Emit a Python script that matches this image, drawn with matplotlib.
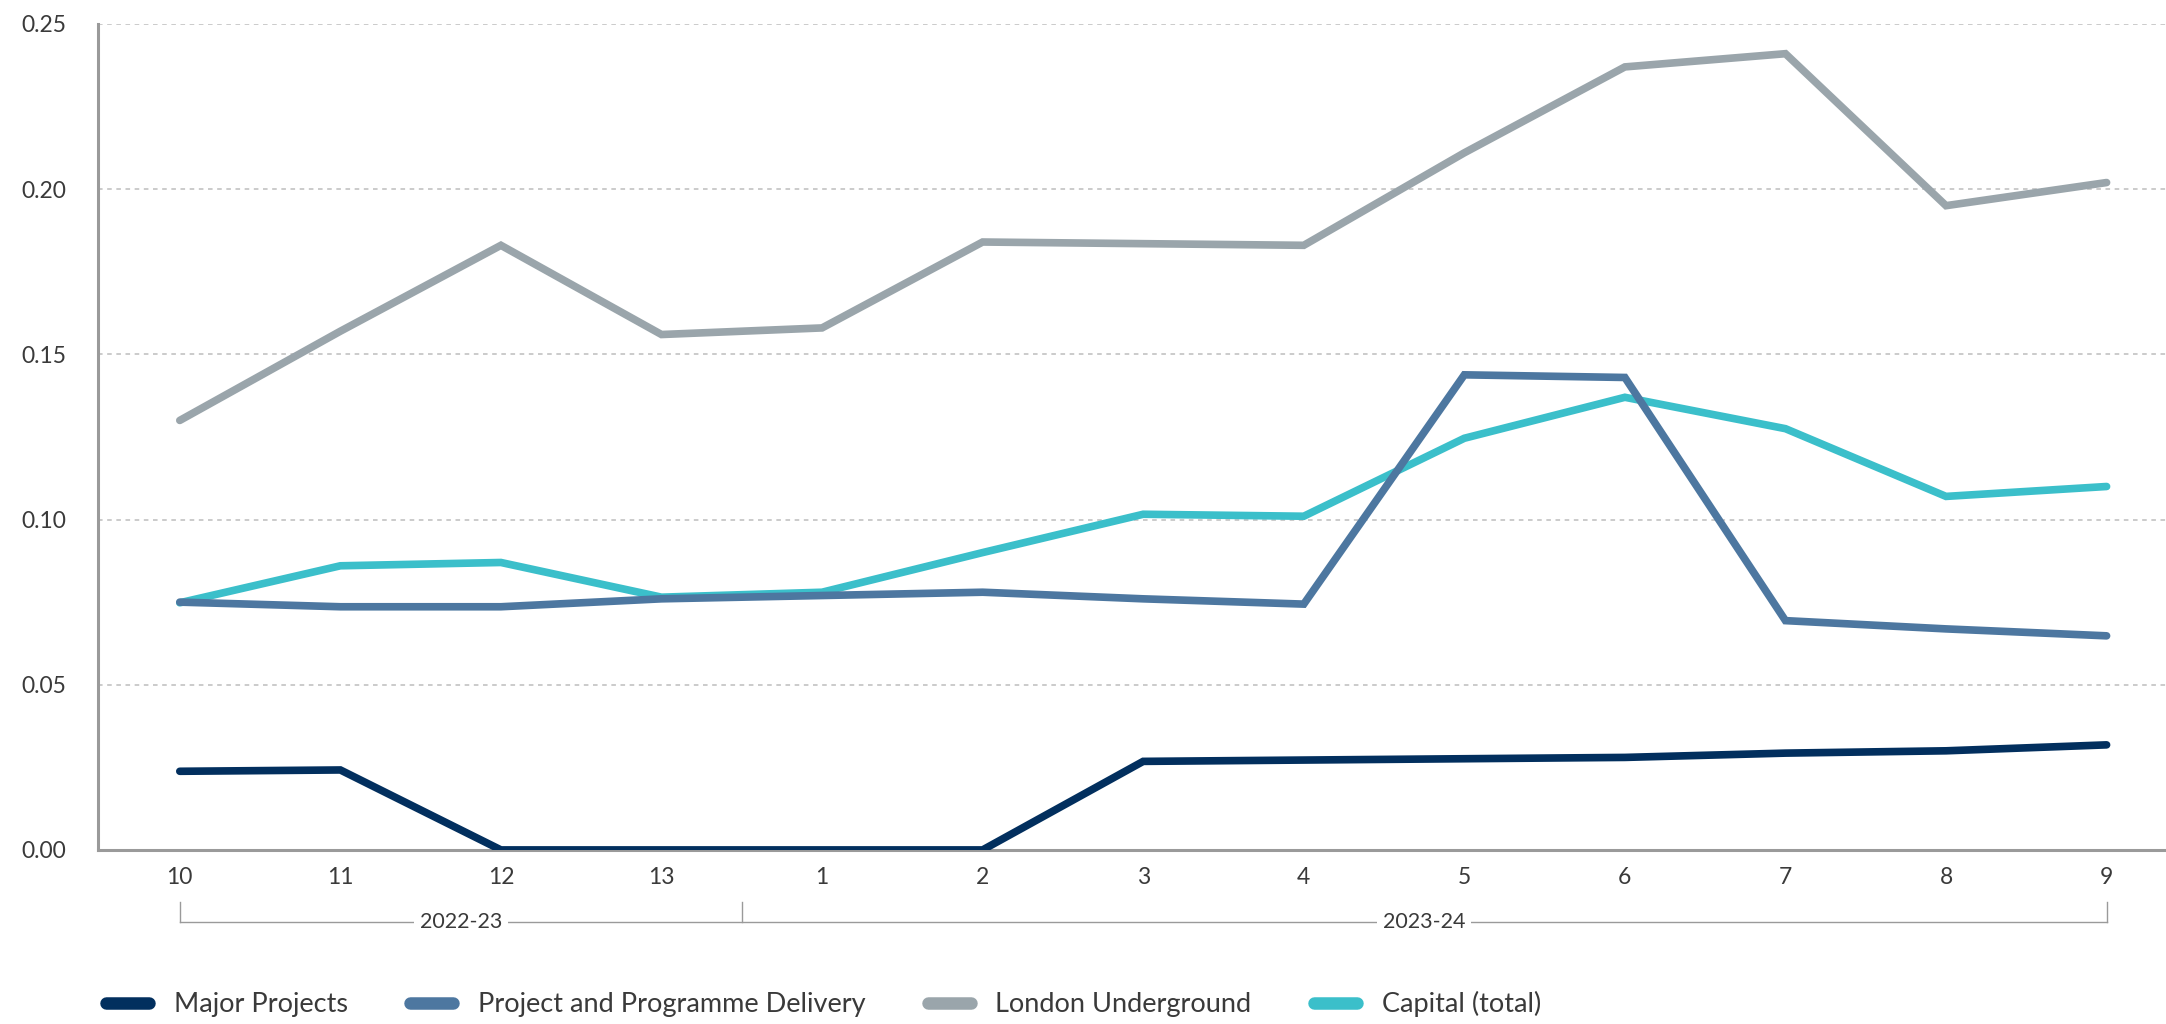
import numpy as np
import matplotlib.pyplot as plt
from matplotlib.transforms import blended_transform_factory

plt.rcParams['font.family'] = ['Lato', 'DejaVu Sans']

periods = ['10', '11', '12', '13', '1', '2', '3', '4', '5', '6', '7', '8', '9']
years = ['2022-23', '2023-24']

major = [0.0238, 0.0242, 0.0, 0.0, 0.0, 0.0, 0.0268, 0.0272, 0.0276, 0.0280, 0.0293, 0.0300, 0.0318]
ppd = [0.0750, 0.0736, 0.0736, 0.0760, 0.0770, 0.0780, 0.0760, 0.0744, 0.1438, 0.1430, 0.0694, 0.0669, 0.0648]
lu = [0.130, 0.157, 0.183, 0.156, 0.158, 0.184, 0.1835, 0.183, 0.211, 0.237, 0.241, 0.195, 0.202]
capital = [0.0748, 0.0860, 0.0870, 0.0765, 0.0780, 0.0900, 0.1016, 0.1010, 0.1246, 0.1370, 0.1275, 0.1070, 0.1100]

names = ['Major Projects', 'Project and Programme Delivery', 'London Underground', 'Capital (total)']
colors = ['#022f5e', '#4d77a0', '#9aa5ab', '#3bbfca']

txt = '#3a3a3a'
x = np.arange(len(periods))

fig = plt.figure(figsize=(21.66, 10.24), dpi=100)
ax = fig.add_axes([0.0452, 0.170, 0.9548, 0.8066])

# grey and teal behind, major on top
series = [major, ppd, lu, capital]
zs = [6, 5, 3, 4]
handles = []
for i in range(4):
    l, = ax.plot(x, series[i], color=colors[i], lw=5.5, solid_capstyle='round',
                 solid_joinstyle='miter', label=names[i], zorder=zs[i])
    handles.append(l)

ax.set_ylim(0, 0.25)
ax.set_xlim(-0.51, 12.37)
ax.set_yticks([0, 0.05, 0.10, 0.15, 0.20, 0.25])
ax.set_yticklabels(['0.00', '0.05', '0.10', '0.15', '0.20', '0.25'])
ax.set_xticks(x)
ax.set_xticklabels(periods)
ax.tick_params(axis='both', length=0, labelsize=16.5, labelcolor=txt)
ax.tick_params(axis='y', pad=23)
ax.tick_params(axis='x', pad=12)

for y in [0.05, 0.10, 0.15, 0.20, 0.25]:
    ax.axhline(y, color='#bdbdbd', lw=1.1, ls=(0, (3, 3)), zorder=1)

for s in ['top', 'right']:
    ax.spines[s].set_visible(False)
for s in ['left', 'bottom']:
    ax.spines[s].set_color('#9a9a9a')
    ax.spines[s].set_linewidth(2.2)

# year brackets under the axis
tr = blended_transform_factory(ax.transData, ax.transAxes)
y_top, y_bot = -0.063, -0.087
for bx in [0, 3.5, 12]:
    ax.plot([bx, bx], [y_top, y_bot], color='#9a9a9a', lw=1, transform=tr, clip_on=False)
ax.plot([0, 12], [y_bot, y_bot], color='#9a9a9a', lw=1, transform=tr, clip_on=False)
for cx, lab in zip([1.75, 7.75], years):
    ax.text(cx, y_bot, lab, transform=tr, ha='center', va='center', fontsize=15.5, color=txt,
            bbox=dict(facecolor='white', edgecolor='none', pad=4))

leg = fig.legend(handles, names, loc='center left', bbox_to_anchor=(0.049, 0.0195),
                 ncol=4, frameon=False, fontsize=19.5, borderpad=0, borderaxespad=0,
                 handlelength=1.6, handletextpad=0.9, columnspacing=2.3, labelcolor=txt)
for h in leg.get_lines():
    h.set_linewidth(9)
    h.set_solid_capstyle('round')

fig.savefig('out.png', dpi=100, facecolor='white')
